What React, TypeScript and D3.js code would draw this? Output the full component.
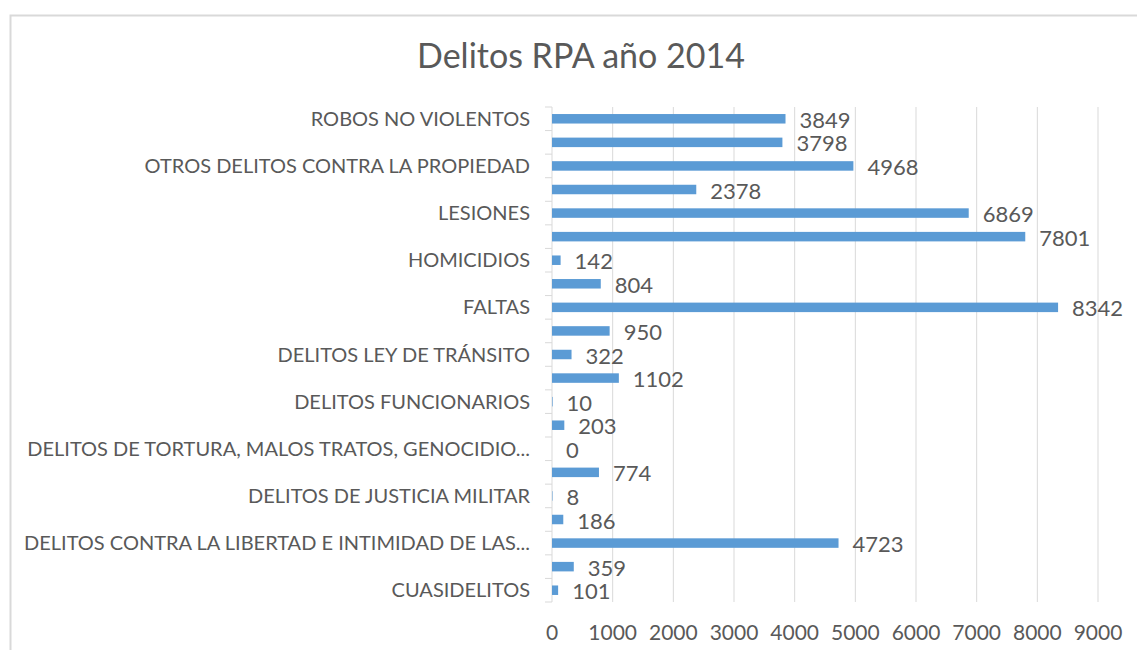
import React, { useEffect, useRef } from "react";
import * as d3 from "d3";

const title = "Delitos RPA año 2014";
const categories = [
  "CUASIDELITOS",
  "DELITOS CONTRA LA FE PÚBLICA",
  "DELITOS CONTRA LA LIBERTAD E INTIMIDAD DE LAS PERSONAS",
  "DELITOS CONTRA LEYES DE PROPIEDAD INTELECTUAL E INDUSTRIAL",
  "DELITOS DE JUSTICIA MILITAR",
  "DELITOS DE LEYES ESPECIALES",
  "DELITOS DE TORTURA, MALOS TRATOS, GENOCIDIO Y LESA HUMANIDAD",
  "DELITOS ECONÓMICOS Y TRIBUTARIOS",
  "DELITOS FUNCIONARIOS",
  "DELITOS LEY DE DROGAS",
  "DELITOS LEY DE TRÁNSITO",
  "DELITOS SEXUALES",
  "FALTAS",
  "HECHOS DE RELEVANCIA CRIMINAL",
  "HOMICIDIOS",
  "HURTOS",
  "LESIONES",
  "OTROS DELITOS",
  "OTROS DELITOS CONTRA LA PROPIEDAD",
  "ROBOS",
  "ROBOS NO VIOLENTOS",
];
const values = [101, 359, 4723, 186, 8, 774, 0, 203, 10, 1102, 322, 950, 8342, 804, 142, 7801, 6869, 2378, 4968, 3798, 3849];
const xTicks = [0, 1000, 2000, 3000, 4000, 5000, 6000, 7000, 8000, 9000];

const FONT = "Lato, 'Open Sans', sans-serif";
const TEXT = "#595959";
const GRID = "#d9d9d9";
const BAR = "#5B9BD5";

export default function App() {
  const ref = useRef<SVGSVGElement | null>(null);
  useEffect(() => {
    const svg = d3.select(ref.current);
    svg.selectAll("*").remove();
    const left = 552, right = 1098, top = 107, bottom = 602;

    svg.append("rect").attr("x", 10.5).attr("y", 15.5).attr("width", 1200).attr("height", 700)
      .attr("fill", "white").attr("stroke", GRID).attr("stroke-width", 2);

    svg.append("text").attr("x", 581).attr("y", 68).attr("text-anchor", "middle")
      .attr("font-family", FONT).attr("font-size", 34).attr("fill", TEXT).text(title);

    const x = d3.scaleLinear().domain([0, 9000]).range([left, right]);
    const order = categories.slice().reverse();
    const y = d3.scaleBand<string>().domain(order).range([top, bottom]);
    const band = y.step();
    const cy = (c: string) => (y(c) ?? 0) + band / 2;
    const bh = 9.5;

    svg.append("g").selectAll("line").data(xTicks.filter((t) => t > 0)).join("line")
      .attr("x1", (d) => x(d)).attr("x2", (d) => x(d)).attr("y1", top).attr("y2", bottom)
      .attr("stroke", GRID).attr("stroke-width", 1);

    svg.append("line").attr("x1", left).attr("x2", left).attr("y1", top).attr("y2", bottom)
      .attr("stroke", GRID).attr("stroke-width", 1);
    const boundaries = d3.range(order.length + 1).map((i) => top + i * band);
    svg.append("g").selectAll("line").data(boundaries).join("line")
      .attr("x1", left - 7).attr("x2", left).attr("y1", (d) => d).attr("y2", (d) => d)
      .attr("stroke", GRID).attr("stroke-width", 1);

    const rows = categories.map((c, i) => ({ c, v: values[i] }));
    svg.append("g").selectAll("rect").data(rows).join("rect")
      .attr("x", left).attr("y", (d) => cy(d.c) - bh / 2)
      .attr("width", (d) => x(d.v) - left).attr("height", bh).attr("fill", BAR);

    svg.append("g").selectAll("text").data(rows).join("text")
      .attr("x", (d) => x(d.v) + 14).attr("y", (d) => cy(d.c) + 9)
      .attr("font-family", FONT).attr("font-size", 22).attr("fill", TEXT).text((d) => String(d.v));

    const labels = svg.append("g").selectAll("text")
      .data(categories.filter((_, i) => i % 2 === 0)).join("text")
      .attr("x", 530).attr("y", (d) => cy(d) + 7)
      .attr("text-anchor", "end").attr("font-family", FONT).attr("font-size", 20).attr("fill", TEXT)
      .text((d) => d);
    const maxW = 514;
    labels.each(function (d) {
      const el = this as SVGTextElement;
      if (el.getComputedTextLength() <= maxW) return;
      let s = d;
      while (s.length > 0) {
        s = s.slice(0, -1);
        el.textContent = s.trimEnd() + "...";
        if (el.getComputedTextLength() <= maxW) break;
      }
    });

    svg.append("g").selectAll("text").data(xTicks).join("text")
      .attr("x", (d) => x(d)).attr("y", 640).attr("text-anchor", "middle")
      .attr("font-family", FONT).attr("font-size", 21).attr("fill", TEXT).text((d) => String(d));
  }, []);
  return (
    <div style={{ position: "absolute", left: 0, top: 0, width: 1137, height: 650, overflow: "hidden", background: "white" }}>
      <svg ref={ref} width={1137} height={650} />
    </div>
  );
}
